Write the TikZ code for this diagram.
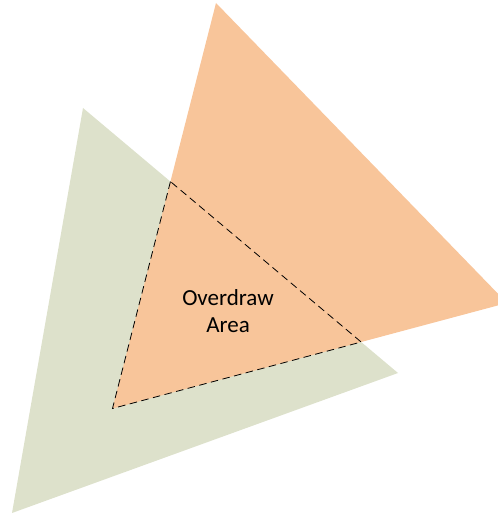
\documentclass[tikz,border=0pt]{standalone}
\usepackage{fontspec}
\setmainfont{Carlito}
\definecolor{greenfill}{HTML}{DDE1CB}
\definecolor{orangefill}{HTML}{F8C59A}
\begin{document}
\begin{tikzpicture}[x=1pt, y=-1pt,
	overlap/.style={black, line width=0.8pt, dash pattern=on 7.5pt off 4.5pt}]
	\useasboundingbox (0,0) rectangle (497,513);
	
	% corners of the triangles
	\coordinate (G1) at (83,108);
	\coordinate (G2) at (398,373);
	\coordinate (G3) at (12,513);
	\coordinate (O1) at (216,3);
	\coordinate (O2) at (507,303);
	\coordinate (O3) at (112.5,408.5);
	
	% where the edges cross
	\coordinate (X1) at (intersection of G1--G2 and O1--O3);
	\coordinate (X2) at (intersection of G1--G2 and O3--O2);
	
	% the two triangles
	\fill[greenfill] (G1) -- (G2) -- (G3) -- cycle;
	\fill[orangefill] (O1) -- (O2) -- (O3) -- cycle;
	
	% outline of the shared part
	\draw[overlap] (X1) -- (O3) -- (X2) -- cycle;
	
	\node[align=center, font=\fontsize{23}{26.5}\selectfont] (label) at (228,311) {Overdraw\\Area};
	
\end{tikzpicture}
\end{document}
